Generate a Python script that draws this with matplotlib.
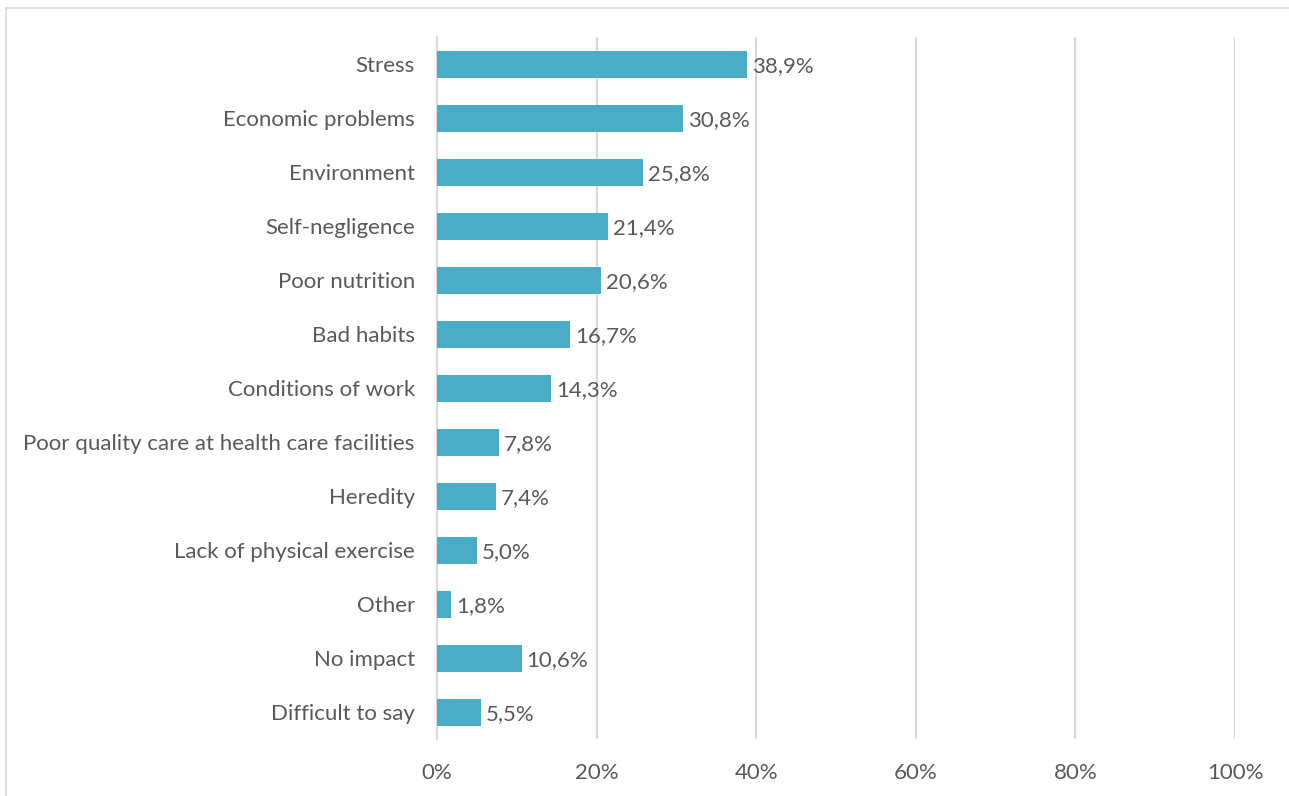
import matplotlib.pyplot as plt
from matplotlib.lines import Line2D

categories = ["Stress", "Economic problems", "Environment", "Self-negligence",
              "Poor nutrition", "Bad habits", "Conditions of work",
              "Poor quality care at health care facilities", "Heredity",
              "Lack of physical exercise", "Other", "No impact", "Difficult to say"]
values = [38.9, 30.8, 25.8, 21.4, 20.6, 16.7, 14.3, 7.8, 7.4, 5.0, 1.8, 10.6, 5.5]
xticks = [0, 20, 40, 60, 80, 100]

bar_color = "#4BACC6"
text_color = "#595959"
grid_color = "#D9D9D9"
fs = 16

plt.rcParams['font.family'] = ['Lato', 'DejaVu Sans']

fig = plt.figure(figsize=(12.89, 7.96), dpi=100)
ax = fig.add_axes([437/1289, 1 - 739/796, (1235 - 437)/1289, (739 - 37)/796])

y = list(range(len(categories)))
ax.barh(y, values, height=0.5, color=bar_color, zorder=3)
for yi, v in zip(y, values):
    ax.text(v + 0.6, yi + 0.03, f"{v:.1f}%".replace(".", ","), va="center", ha="left",
            fontsize=fs, color=text_color)

ax.set_xlim(0, 100)
ax.set_ylim(len(categories) - 0.5, -0.5)
ax.set_yticks(y)
ax.set_yticklabels(categories, fontsize=fs, color=text_color)
ax.set_xticks(xticks)
ax.set_xticklabels([f"{t}%" for t in xticks], fontsize=fs, color=text_color)
ax.tick_params(axis="both", length=0)
ax.tick_params(axis="y", pad=16)
ax.tick_params(axis="x", pad=17)
ax.grid(axis="x", color=grid_color, linewidth=1.5, zorder=0)
for s in ["top", "right", "bottom"]:
    ax.spines[s].set_visible(False)
ax.spines["left"].set_color(grid_color)
ax.spines["left"].set_linewidth(1.5)

# outer chart frame (left and top edges visible)
fig.add_artist(Line2D([6/1289, 6/1289], [0, 1 - 8/796], transform=fig.transFigure,
                      color=grid_color, linewidth=1.2))
fig.add_artist(Line2D([6/1289, 1], [1 - 8/796, 1 - 8/796], transform=fig.transFigure,
                      color=grid_color, linewidth=1.2))

fig.savefig("out.png", dpi=100)
